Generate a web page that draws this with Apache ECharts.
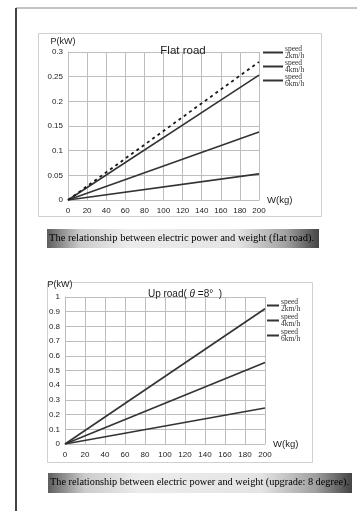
<!DOCTYPE html>
<html><head><meta charset="utf-8">
<script src="https://cdn.jsdelivr.net/npm/echarts@6/dist/echarts.min.js"></script>
<style>html,body{margin:0;padding:0;background:#fff}#c{width:357px;height:511px}</style>
</head><body><div id="c"></div>
<script>
// ---- data ----
const weights = [0, 200];                 // W (kg)
const flatDashed = [0, 0.28];             // dashed reference line, flat road
const flat2 = [0, 0.053];                 // speed 2 km/h, flat road
const flat4 = [0, 0.138];                 // speed 4 km/h, flat road
const flat6 = [0, 0.253];                 // speed 6 km/h, flat road
const up2 = [0, 0.245];                   // speed 2 km/h, 8 degree
const up4 = [0, 0.555];                   // speed 4 km/h, 8 degree
const up6 = [0, 0.92];                    // speed 6 km/h, 8 degree
const legendNames = ['speed\n2km/h', 'speed\n4km/h', 'speed\n6km/h'];
const title1 = 'Flat road';
const title2 = '{n|Up road( }{i|θ}{n| =8°  )}';
const caption1 = 'The relationship between electric power and weight (flat road).';
const caption2 = 'The relationship between electric power and weight (upgrade: 8 degree).';

const pair = (xs, ys) => xs.map((x, i) => [x, ys[i]]);
const LINE = '#333';
const GRIDC = '#bdbdbd';
const sans = 'Liberation Sans';
const serif = 'Liberation Serif';

const chart = echarts.init(document.getElementById('c'), null, {renderer: 'canvas'});

function lineSeries(name, ys, gi, dashed) {
  return {
    type: 'line', name: name, xAxisIndex: gi, yAxisIndex: gi,
    data: pair(weights, ys), showSymbol: false, symbol: 'none', animation: false,
    lineStyle: dashed ? {color: '#1a1a1a', width: 1.8, type: [3, 3.5]} : {color: LINE, width: 1.6},
    itemStyle: {color: LINE}, z: dashed ? 3 : 2
  };
}

function xAx(gi) {
  return {
    type: 'value', gridIndex: gi, min: 0, max: 200, interval: 20,
    name: 'W(kg)', nameLocation: 'end', nameGap: 8,
    nameTextStyle: {fontFamily: sans, fontSize: 9.5, color: '#222', padding: [12, 0, 0, 0]},
    axisLine: {show: true, lineStyle: {color: GRIDC}}, axisTick: {show: false},
    axisLabel: {fontFamily: sans, fontSize: 8, color: '#1a1a1a', margin: 7},
    splitLine: {show: true, lineStyle: {color: GRIDC, width: 1}}
  };
}
function yAx(gi, max, interval, gap) {
  return {
    type: 'value', gridIndex: gi, min: 0, max: max, interval: interval,
    name: 'P(kW)', nameLocation: 'end', nameGap: gap,
    nameTextStyle: {fontFamily: sans, fontSize: 9, color: '#222', align: 'center', verticalAlign: 'middle', padding: [0, 10, 0, 0]},
    axisLine: {show: true, lineStyle: {color: GRIDC}}, axisTick: {show: false},
    axisLabel: {fontFamily: sans, fontSize: 8, color: '#1a1a1a', margin: 5},
    splitLine: {show: true, lineStyle: {color: GRIDC, width: 1}}
  };
}
function legend(names, left, top, gap, w) {
  return {
    data: names, orient: 'vertical', left: left, top: top, padding: 0,
    icon: 'rect', itemWidth: w, itemHeight: 2, itemGap: gap,
    selectedMode: false, inactiveColor: LINE,
    formatter: (n) => legendNames[names.indexOf(n)],
    textStyle: {fontFamily: serif, fontSize: 7.5, lineHeight: 7, color: '#333', padding: [7, 0, 0, -3]}
  };
}
function captionBar(x, y, w, h, text, fs) {
  return [{
    type: 'rect', left: x, top: y, silent: true,
    shape: {width: w, height: h},
    style: {fill: new echarts.graphic.LinearGradient(0, 0, 1, 0, [
      {offset: 0, color: '#5e5e5e'}, {offset: 0.12, color: '#cbcbcb'},
      {offset: 0.3, color: '#ececec'}, {offset: 0.7, color: '#e4e4e4'},
      {offset: 0.88, color: '#a0a0a0'}, {offset: 1, color: '#444'}])}
  }, {
    type: 'text', left: x + 2, top: y + 4, silent: true,
    style: {text: text, font: fs + 'px "Liberation Serif"', fill: '#000'}
  }];
}

const option = {
  animation: false,
  backgroundColor: '#fff',
  title: [
    {text: title1, left: 178, top: 40, textAlign: 'center', textStyle: {fontFamily: sans, fontSize: 11.5, fontWeight: 'normal', color: '#1a1a1a'}},
    {text: title2, left: 180, top: 284, textAlign: 'center', textStyle: {fontFamily: sans, fontSize: 10, fontWeight: 'normal', color: '#1a1a1a',
      rich: {n: {fontFamily: sans, fontSize: 10, color: '#1a1a1a'}, i: {fontFamily: sans, fontSize: 10, fontStyle: 'italic', color: '#1a1a1a'}}}}
  ],
  legend: [legend(['f2', 'f4', 'f6'], 263, 42, -7, 20), legend(['u2', 'u4', 'u6'], 267, 295, -6, 12)],
  grid: [
    {left: 68, right: 98, top: 52, bottom: 311},
    {left: 65, right: 92, top: 297, bottom: 67}
  ],
  xAxis: [xAx(0), xAx(1)],
  yAxis: [yAx(0, 0.3, 0.05, 10), yAx(1, 1, 0.1, 12)],
  series: [
    lineSeries('fd', flatDashed, 0, true),
    lineSeries('f6', flat6, 0), lineSeries('f4', flat4, 0), lineSeries('f2', flat2, 0),
    lineSeries('u6', up6, 1), lineSeries('u4', up4, 1), lineSeries('u2', up2, 1)
  ],
  graphic: [
    {type: 'line', silent: true, shape: {x1: 16, y1: 8, x2: 357, y2: 8}, style: {stroke: '#888', lineWidth: 1}},
    {type: 'line', silent: true, shape: {x1: 16, y1: 8, x2: 16, y2: 511}, style: {stroke: '#444', lineWidth: 2}},
    {type: 'rect', silent: true, z: -1, shape: {x: 38.5, y: 33.5, width: 283, height: 183}, style: {fill: 'none', stroke: '#d0d0d0', lineWidth: 1}},
    {type: 'rect', silent: true, z: -1, shape: {x: 47.5, y: 282.5, width: 265, height: 180}, style: {fill: 'none', stroke: '#d0d0d0', lineWidth: 1}},
    ...captionBar(47, 229, 272, 19, caption1, 10.5),
    ...captionBar(48, 473, 304, 20, caption2, 10.3)
  ]
};
chart.setOption(option);
</script>
</body></html>
